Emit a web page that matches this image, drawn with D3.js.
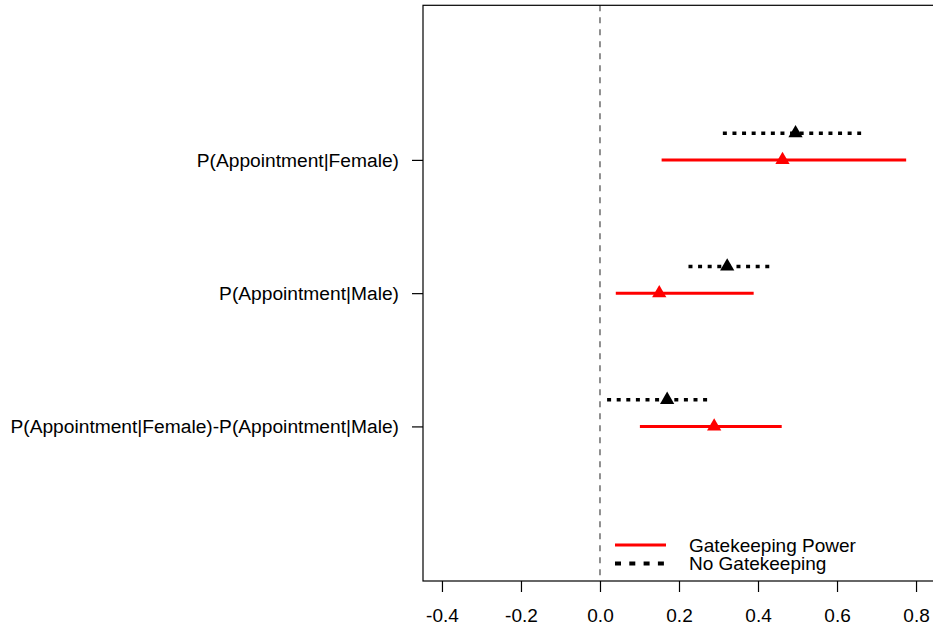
<!DOCTYPE html>
<html>
<head>
<meta charset="utf-8">
<script src="https://cdn.jsdelivr.net/npm/d3@7"></script>
<style>
  body { margin: 0; background: #fff; }
  svg { display: block; font-family: "Liberation Sans", Arial, sans-serif; }
</style>
</head>
<body>
<svg id="chart" width="933" height="630"></svg>
<script>
// quantities, top to bottom
const categories = [
  "P(Appointment|Female)",
  "P(Appointment|Male)",
  "P(Appointment|Female)-P(Appointment|Male)"
];
// Gatekeeping Power (red, solid)
const gateEst = [0.462, 0.150, 0.289];
const gateLow = [0.156, 0.040, 0.101];
const gateHigh = [0.775, 0.389, 0.460];
// No Gatekeeping (black, dotted)
const noGateEst = [0.495, 0.322, 0.170];
const noGateLow = [0.311, 0.224, 0.018];
const noGateHigh = [0.661, 0.429, 0.272];

const xTicks = [-0.4, -0.2, 0.0, 0.2, 0.4, 0.6, 0.8];
const legendLabels = ["Gatekeeping Power", "No Gatekeeping"];

const svg = d3.select("#chart");

// R style: xlim [-0.4, 0.8] with 4% padding
const x = d3.scaleLinear().domain([-0.448, 0.848]).range([423, 935]);
const y = d3.scaleLinear().domain([-0.16, 4.16]).range([5.3, 581]);

const rows = categories.map((c, i) => ({
  name: c, pos: i + 1,
  gate: { est: gateEst[i], lo: gateLow[i], hi: gateHigh[i] },
  noGate: { est: noGateEst[i], lo: noGateLow[i], hi: noGateHigh[i] }
}));

// zero reference line
svg.append("line")
  .attr("x1", x(0)).attr("x2", x(0))
  .attr("y1", y.range()[0]).attr("y2", y.range()[1])
  .attr("stroke", "#555")
  .attr("stroke-width", 1.3)
  .attr("stroke-dasharray", "6,6");

// box
svg.append("rect")
  .attr("x", x.range()[0]).attr("y", y.range()[0])
  .attr("width", x.range()[1] - x.range()[0])
  .attr("height", y.range()[1] - y.range()[0])
  .attr("fill", "none")
  .attr("stroke", "#000")
  .attr("stroke-width", 1.2);

// x axis (plain hyphen minus, like R)
const fmt = d => d.toFixed(1);
const xAxis = svg.append("g")
  .attr("transform", `translate(0,${y.range()[1]})`)
  .call(d3.axisBottom(x).tickValues(xTicks).tickFormat(fmt).tickSize(11).tickPadding(17));
xAxis.select(".domain").remove();
xAxis.selectAll("line").attr("stroke", "#000").attr("stroke-width", 1.2);
xAxis.selectAll("text").attr("font-size", 19).attr("fill", "#000")
  .attr("font-family", "'Liberation Sans', Arial, sans-serif");

// y axis
const yAxis = svg.append("g")
  .attr("transform", `translate(${x.range()[0]},0)`)
  .call(d3.axisLeft(y).tickValues(rows.map(r => r.pos))
    .tickFormat((d, i) => categories[i]).tickSize(11).tickPadding(13));
yAxis.select(".domain").remove();
yAxis.selectAll("line").attr("stroke", "#000").attr("stroke-width", 1.2);
yAxis.selectAll("text").attr("font-size", 19.2).attr("fill", "#000")
  .attr("font-family", "'Liberation Sans', Arial, sans-serif");

const offset = 0.2;
const tri = d3.symbol().type(d3.symbolTriangle).size(88);

// Gatekeeping Power intervals
svg.append("g").selectAll("line")
  .data(rows).join("line")
  .attr("x1", d => x(d.gate.lo)).attr("x2", d => x(d.gate.hi))
  .attr("y1", d => y(d.pos)).attr("y2", d => y(d.pos))
  .attr("stroke", "#ff0000").attr("stroke-width", 3);

svg.append("g").selectAll("path")
  .data(rows).join("path")
  .attr("d", tri)
  .attr("transform", d => `translate(${x(d.gate.est)},${y(d.pos)})`)
  .attr("fill", "#ff0000");

// No Gatekeeping intervals
svg.append("g").selectAll("line")
  .data(rows).join("line")
  .attr("x1", d => x(d.noGate.lo)).attr("x2", d => x(d.noGate.hi))
  .attr("y1", d => y(d.pos - offset)).attr("y2", d => y(d.pos - offset))
  .attr("stroke", "#000").attr("stroke-width", 3.5)
  .attr("stroke-dasharray", "4,5.6");

svg.append("g").selectAll("path")
  .data(rows).join("path")
  .attr("d", tri)
  .attr("transform", d => `translate(${x(d.noGate.est)},${y(d.pos - offset)})`)
  .attr("fill", "#000");

// legend
const legend = svg.append("g");
const legendStyles = [
  { color: "#ff0000", dash: null, width: 3 },
  { color: "#000", dash: "6,8.3", width: 4 }
];
legendLabels.forEach((lab, i) => {
  const ly = 545 + i * 18.5;
  legend.append("line")
    .attr("x1", 615).attr("x2", 666)
    .attr("y1", ly).attr("y2", ly)
    .attr("stroke", legendStyles[i].color)
    .attr("stroke-width", legendStyles[i].width)
    .attr("stroke-dasharray", legendStyles[i].dash);
  legend.append("text")
    .attr("x", 689).attr("y", ly).attr("dy", "0.35em")
    .attr("font-size", 19).attr("fill", "#000")
    .text(lab);
});
</script>
</body>
</html>
